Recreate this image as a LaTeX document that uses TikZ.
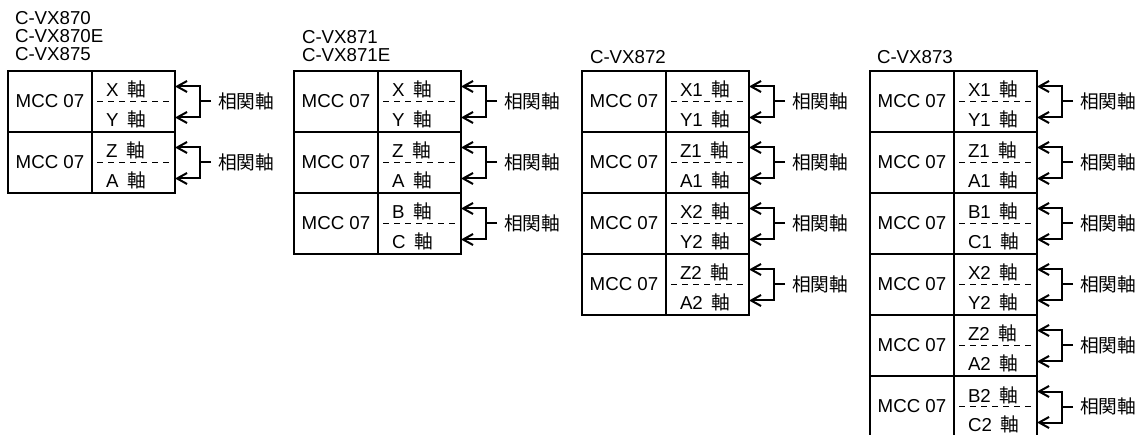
\documentclass[tikz,border=0pt]{standalone}
\usepackage{fontspec}
\setmainfont{Liberation Sans}
\newfontfamily\jp{Noto Sans CJK JP}
\usetikzlibrary{arrows.meta}

\begin{document}
\begin{tikzpicture}[x=1pt,y=-1pt,line width=2pt,font=\fontsize{18.7}{18.3}\selectfont]
\tikzset{
 cell/.style={draw,minimum height=61pt,inner sep=0,outer sep=0,anchor=north west},
 lbl/.style={inner sep=0,anchor=base west},
 hd/.style={inner sep=0,anchor=south west,align=left,text depth=0pt},
 rel/.style={inner sep=0,outer sep=7pt,anchor=west},
 ar/.style={{Straight Barb[length=10pt,width=11pt]}-{Straight Barb[length=10pt,width=11pt]}},
 dsh/.style={line width=1.8pt,dash pattern=on 6pt off 5pt}
}
\useasboundingbox (0,0) rectangle (1140,435);
\clip (0,0) rectangle (1140,435);

\node[hd] (h1) at (14,62) {C-VX870\\C-VX870E\\C-VX875};
\node[hd] (h2) at (301,63) {C-VX871\\C-VX871E};
\node[hd] (h3) at (589,65) {C-VX872};
\node[hd] (h4) at (876,65) {C-VX873};

\foreach \k/\lx/\rows in {1/8/{X/Y,Z/A},2/294/{X/Y,Z/A,B/C},3/582/{X1/Y1,Z1/A1,X2/Y2,Z2/A2},4/870/{X1/Y1,Z1/A1,B1/C1,X2/Y2,Z2/A2,B2/C2}}
 \foreach \up/\dn [count=\i from 0] in \rows {
  \node[cell,minimum width=84pt] (m\k-\i) at (\lx,71+61*\i) {MCC 07};
  \node[cell,minimum width=83pt] (a\k-\i) at (m\k-\i.north east) {};
  \node[lbl] (u\k-\i) at ([shift={(13,26)}]a\k-\i.north west) {\up\hspace{9pt}{\jp 軸}};
  \node[lbl] (d\k-\i) at ([shift={(13,55.5)}]a\k-\i.north west) {\dn\hspace{9pt}{\jp 軸}};
  \draw[dsh] ([xshift=5pt]a\k-\i.west) -- (a\k-\i.east);
  \coordinate (p\k-\i) at ([shift={(25,15.5)}]a\k-\i.north east);
  \coordinate (q\k-\i) at ([shift={(25,46.5)}]a\k-\i.north east);
  \draw[ar] (p\k-\i -| a\k-\i.east) -- (p\k-\i) -- (q\k-\i) -- (q\k-\i -| a\k-\i.east);
  \node[rel] (c\k-\i) at ([shift={(36,30.5)}]a\k-\i.north east) {\jp 相関軸};
  \draw (c\k-\i.west) -- (c\k-\i.west -| p\k-\i);
 }
\end{tikzpicture}
\end{document}
